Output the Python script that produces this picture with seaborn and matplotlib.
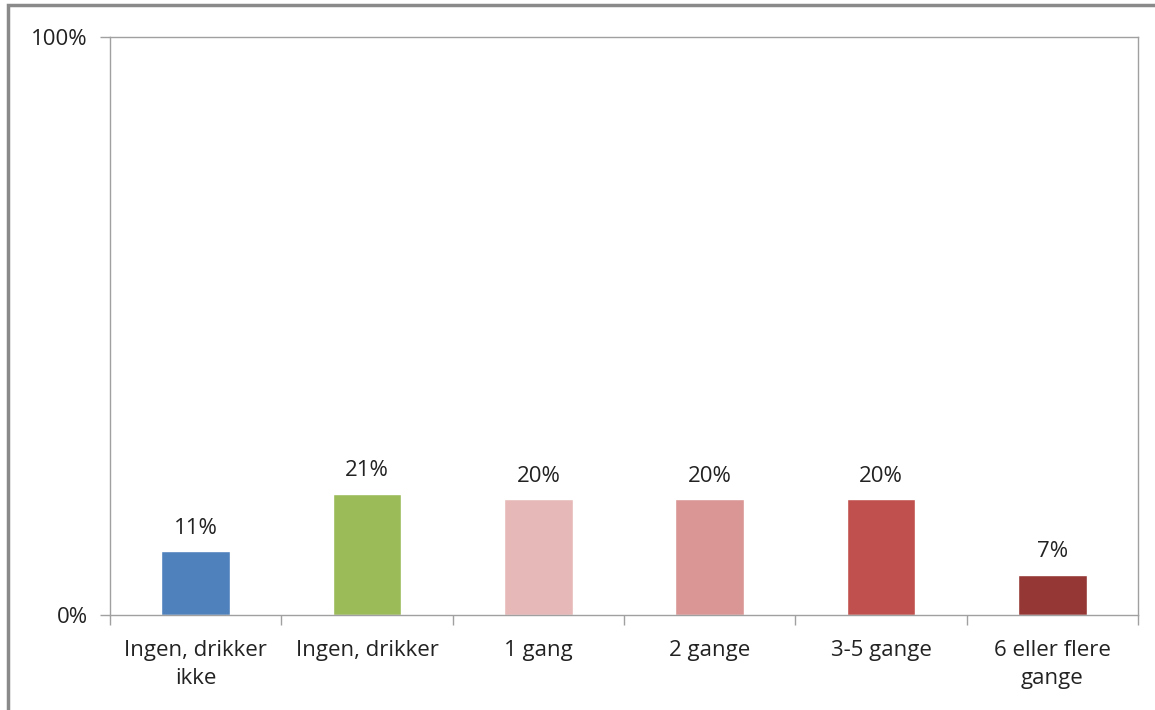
import matplotlib
matplotlib.use("Agg")
import matplotlib.pyplot as plt
import seaborn as sns
import pandas as pd
from matplotlib.patches import Rectangle
from matplotlib.ticker import FixedLocator

# data
categories = ["Ingen, drikker\nikke", "Ingen, drikker", "1 gang", "2 gange",
              "3-5 gange", "6 eller flere\ngange"]
values = [11, 21, 20, 20, 20, 7]
colors = ["#4F81BD", "#9BBB59", "#E6B9B8", "#D99694", "#C0504D", "#953735"]

sns.set_style("white")
plt.rcParams['font.family'] = ['Open Sans', 'DejaVu Sans']

df = pd.DataFrame({"kategori": categories, "andel": values})

fig = plt.figure(figsize=(11.55, 7.10), dpi=100)
ax = fig.add_axes([110 / 1155, 95 / 710, 1028 / 1155, 578 / 710])

sns.barplot(data=df, x="kategori", y="andel", hue="kategori", palette=colors,
            width=0.4, legend=False, ax=ax, saturation=1)

for c in ax.containers:
    ax.bar_label(c, fmt='%d%%', padding=9, fontsize=16, color="#222222")

ax.set_ylim(0, 100)
ax.set_xlim(-0.5, len(categories) - 0.5)
ax.set_yticks([0, 100])
ax.set_yticklabels(["0%", "100%"], fontsize=16, color="#222222")
ax.set_xlabel("")
ax.set_ylabel("")

# ticks at category boundaries, labels centred under bars
ax.set_xticks(range(len(categories)))
ax.set_xticklabels(categories, linespacing=1.45)
ax.xaxis.set_minor_locator(FixedLocator([i - 0.5 for i in range(len(categories) + 1)]))
ax.tick_params(axis='x', which='major', bottom=True, length=0, pad=18,
               labelsize=16, labelcolor="#222222")
ax.tick_params(axis='x', which='minor', bottom=True, length=7, width=1,
               color="#A0A0A0", direction='out')
ax.tick_params(axis='y', left=True, length=7, width=1, color="#A0A0A0",
               direction='out', pad=9)

for s in ax.spines.values():
    s.set_color("#A0A0A0")
    s.set_linewidth(1)

# outer chart frame (partly cut off in the screenshot)
fig.patches.append(Rectangle((8 / 1155, -0.1), 2, 1.1 - 5 / 710, transform=fig.transFigure,
                             fill=False, edgecolor="#8A8A8A", linewidth=2.5))

fig.savefig("out.png", dpi=100)
